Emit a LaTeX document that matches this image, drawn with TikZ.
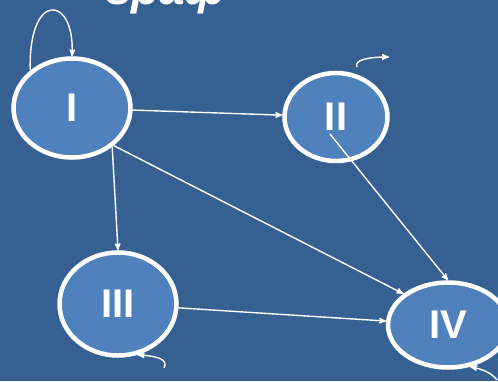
\documentclass[tikz,border=0pt]{standalone}
\usepackage{fontspec}
\setmainfont{Liberation Sans}
\usetikzlibrary{arrows}
\usetikzlibrary{shapes.geometric}
\usetikzlibrary{positioning}
\definecolor{slidebg}{RGB}{54,96,146}
\definecolor{vertexfill}{RGB}{79,129,189}

\begin{document}
\begin{tikzpicture}[x=1pt,y=-1pt,
        vertex/.style={ellipse,draw=white,line width=4.5pt,fill=vertexfill,text=white,
            font=\bfseries\fontsize{40}{40}\selectfont,inner sep=0pt},
        link/.style={white,line width=1.4pt,>=stealth'}]
        \fill[slidebg] (0,0) rectangle (498,381);
        \useasboundingbox (0,0) rectangle (498,381);
        \node [text=white,font=\bfseries\itshape\fontsize{46}{46}\selectfont,anchor=base] (title) at (166,4) {граф};
        \node [vertex,minimum width=117pt,minimum height=99pt] (I) at (72,108) {I};
        \node [vertex,minimum width=103pt,minimum height=88pt] (II) at (336,117) {II};
        \node [vertex,minimum width=117pt,minimum height=103pt] (III) at (118,304) {III};
        \node [vertex,minimum width=120pt,minimum height=85pt] (IV) at (448,325) {IV};
        \coordinate (IIs) at (330,134);
        \coordinate (IIa) at (357,67);
        \coordinate (IIb) at (389,57);
        \coordinate (IIIa) at (164,368);
        \coordinate (IVa) at (497,380);
        \path[link,->]
            (I) edge (II)
            (I.-44) edge (III.north)
            (I.-42) edge (IV.145)
            (IIs) edge (IV.north)
            (III) edge (IV);
        \draw[link,->] (I.138) .. controls (28,-10) and (75,-5) .. (I.north);
        \draw[link,->] (IIa) .. controls (354,60) and (368,57) .. (IIb);
        \draw[link,->] (IIIa) .. controls (169,359) and (156,356) .. (III.-69);
        \draw[link,->] (IVa) .. controls (492,373) and (482,369) .. (IV.-62);
    \end{tikzpicture}
\end{document}
